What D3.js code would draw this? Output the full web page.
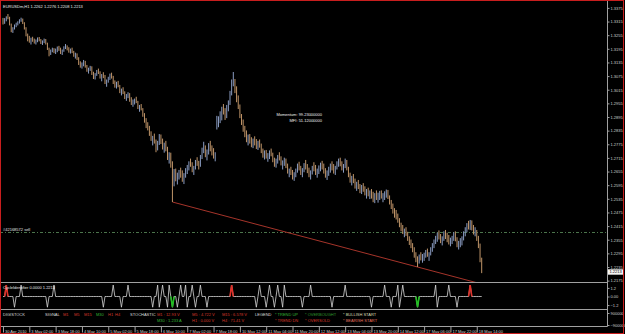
<!DOCTYPE html>
<html>
<head>
<meta charset="utf-8">
<script src="https://cdn.jsdelivr.net/npm/d3@7"></script>
<style>
  html, body { margin: 0; padding: 0; background: #000; }
  svg { display: block; }
  text { font-family: "Liberation Sans", Arial, sans-serif; }
</style>
</head>
<body>
<div id="chart"></div>
<script>
// EURUSDm H1 bars, 30 Apr 10:00 - 18 May 17:00 2010 (16 bars per row)
var highs = [
  1.3331,1.3330,1.3338,1.3348,1.3336,1.3306,1.3290,1.3302,1.3310,1.3316,1.3325,1.3332,1.3328,1.3312,1.3290,1.3262,
  1.3252,1.3244,1.3248,1.3240,1.3236,1.3245,1.3247,1.3238,1.3232,1.3240,1.3238,1.3222,1.3200,1.3192,1.3200,1.3198,
  1.3196,1.3205,1.3208,1.3200,1.3192,1.3206,1.3216,1.3210,1.3202,1.3196,1.3200,1.3186,1.3178,1.3175,1.3158,1.3140,
  1.3135,1.3146,1.3142,1.3124,1.3112,1.3120,1.3118,1.3094,1.3088,1.3102,1.3108,1.3096,1.3084,1.3092,1.3080,1.3060,
  1.3072,1.3086,1.3090,1.3076,1.3056,1.3050,1.3054,1.3036,1.3020,1.3026,1.3008,1.2996,1.3004,1.3000,1.2982,1.2972,
  1.2976,1.2984,1.2966,1.2948,1.2952,1.2934,1.2912,1.2890,1.2872,1.2856,1.2832,1.2812,1.2822,1.2796,1.2790,1.2820,
  1.2818,1.2800,1.2782,1.2790,1.2764,1.2740,1.2738,1.2700,1.2666,1.2668,1.2650,1.2662,1.2672,1.2660,1.2648,1.2670,
  1.2684,1.2700,1.2712,1.2696,1.2680,1.2706,1.2718,1.2702,1.2728,1.2760,1.2786,1.2770,1.2752,1.2780,1.2790,1.2770,
  1.2758,1.2740,1.2900,1.2898,1.2920,1.2940,1.2952,1.2934,1.2948,1.2968,1.3010,1.3060,1.3093,1.3062,1.3030,1.2990,
  1.2950,1.2908,1.2884,1.2856,1.2836,1.2818,1.2820,1.2806,1.2800,1.2810,1.2798,1.2790,1.2796,1.2778,1.2756,1.2748,
  1.2750,1.2736,1.2748,1.2756,1.2738,1.2716,1.2712,1.2728,1.2740,1.2722,1.2704,1.2716,1.2712,1.2690,1.2668,1.2676,
  1.2662,1.2652,1.2668,1.2690,1.2698,1.2680,1.2670,1.2692,1.2706,1.2688,1.2672,1.2660,1.2680,1.2696,1.2684,1.2668,
  1.2682,1.2694,1.2702,1.2690,1.2670,1.2660,1.2676,1.2690,1.2700,1.2688,1.2680,1.2700,1.2712,1.2716,1.2700,1.2688,
  1.2712,1.2706,1.2676,1.2650,1.2636,1.2644,1.2624,1.2610,1.2618,1.2600,1.2596,1.2604,1.2590,1.2578,1.2584,1.2572,
  1.2578,1.2566,1.2560,1.2572,1.2562,1.2570,1.2572,1.2560,1.2568,1.2576,1.2574,1.2550,1.2530,1.2514,1.2494,1.2486,
  1.2470,1.2450,1.2430,1.2420,1.2404,1.2410,1.2390,1.2370,1.2356,1.2340,1.2322,1.2300,1.2282,1.2290,1.2300,1.2292,
  1.2298,1.2310,1.2316,1.2300,1.2322,1.2340,1.2356,1.2372,1.2386,1.2396,1.2380,1.2370,1.2392,1.2398,1.2386,1.2376,
  1.2364,1.2372,1.2388,1.2392,1.2366,1.2350,1.2362,1.2370,1.2392,1.2410,1.2428,1.2438,1.2442,1.2440,1.2420,1.2410,
  1.2398,1.2372,1.2338,1.2276
];
var lows = [
  1.3302,1.3305,1.3316,1.3325,1.3298,1.3268,1.3265,1.3280,1.3290,1.3298,1.3306,1.3314,1.3304,1.3280,1.3250,1.3228,
  1.3222,1.3214,1.3226,1.3218,1.3214,1.3224,1.3228,1.3216,1.3212,1.3220,1.3214,1.3190,1.3162,1.3168,1.3180,1.3176,
  1.3172,1.3180,1.3186,1.3172,1.3168,1.3182,1.3194,1.3188,1.3178,1.3174,1.3176,1.3160,1.3152,1.3146,1.3124,1.3112,
  1.3108,1.3118,1.3112,1.3094,1.3086,1.3098,1.3080,1.3062,1.3060,1.3076,1.3084,1.3064,1.3052,1.3066,1.3040,1.3028,
  1.3046,1.3058,1.3064,1.3040,1.3024,1.3020,1.3026,1.3000,1.2990,1.2996,1.2974,1.2966,1.2978,1.2962,1.2948,1.2940,
  1.2950,1.2956,1.2930,1.2918,1.2924,1.2896,1.2870,1.2846,1.2836,1.2812,1.2790,1.2770,1.2778,1.2740,1.2748,1.2772,
  1.2776,1.2752,1.2738,1.2744,1.2706,1.2690,1.2672,1.2521,1.2590,1.2612,1.2598,1.2620,1.2628,1.2610,1.2600,1.2628,
  1.2644,1.2660,1.2676,1.2652,1.2640,1.2664,1.2680,1.2664,1.2676,1.2710,1.2736,1.2718,1.2704,1.2730,1.2744,1.2726,
  1.2712,1.2700,1.2840,1.2850,1.2868,1.2880,1.2906,1.2882,1.2890,1.2920,1.2948,1.2990,1.3030,1.3000,1.2960,1.2930,
  1.2890,1.2860,1.2830,1.2806,1.2784,1.2770,1.2778,1.2762,1.2758,1.2770,1.2754,1.2750,1.2760,1.2736,1.2716,1.2708,
  1.2712,1.2698,1.2710,1.2722,1.2696,1.2676,1.2672,1.2690,1.2704,1.2682,1.2664,1.2680,1.2670,1.2646,1.2630,1.2640,
  1.2620,1.2614,1.2630,1.2650,1.2660,1.2640,1.2630,1.2652,1.2664,1.2648,1.2630,1.2620,1.2642,1.2656,1.2640,1.2628,
  1.2644,1.2656,1.2664,1.2646,1.2628,1.2618,1.2636,1.2650,1.2660,1.2646,1.2640,1.2664,1.2676,1.2678,1.2660,1.2650,
  1.2670,1.2660,1.2630,1.2606,1.2594,1.2604,1.2580,1.2570,1.2578,1.2560,1.2556,1.2566,1.2550,1.2536,1.2546,1.2534,
  1.2536,1.2520,1.2516,1.2530,1.2518,1.2530,1.2536,1.2520,1.2530,1.2540,1.2534,1.2510,1.2490,1.2470,1.2452,1.2444,
  1.2430,1.2410,1.2392,1.2380,1.2366,1.2372,1.2350,1.2332,1.2318,1.2300,1.2276,1.2256,1.2235,1.2250,1.2264,1.2254,
  1.2262,1.2276,1.2280,1.2262,1.2286,1.2302,1.2318,1.2336,1.2346,1.2356,1.2340,1.2330,1.2350,1.2358,1.2344,1.2334,
  1.2326,1.2336,1.2350,1.2348,1.2322,1.2312,1.2322,1.2330,1.2352,1.2370,1.2388,1.2400,1.2398,1.2396,1.2378,1.2370,
  1.2350,1.2318,1.2256,1.2208
];
var closes = [
  1.3310,1.3322,1.3333,1.3330,1.3302,1.3275,1.3285,1.3298,1.3305,1.3312,1.3320,1.3326,1.3308,1.3284,1.3258,1.3240,
  1.3230,1.3236,1.3232,1.3225,1.3230,1.3240,1.3234,1.3222,1.3228,1.3236,1.3218,1.3196,1.3172,1.3188,1.3194,1.3182,
  1.3190,1.3198,1.3192,1.3178,1.3186,1.3200,1.3204,1.3194,1.3185,1.3190,1.3180,1.3166,1.3170,1.3150,1.3130,1.3122,
  1.3128,1.3138,1.3116,1.3100,1.3106,1.3112,1.3086,1.3070,1.3082,1.3096,1.3090,1.3070,1.3078,1.3072,1.3048,1.3054,
  1.3066,1.3078,1.3070,1.3046,1.3034,1.3042,1.3030,1.3006,1.3012,1.3002,1.2980,1.2988,1.2996,1.2968,1.2958,1.2962,
  1.2970,1.2962,1.2938,1.2942,1.2930,1.2902,1.2878,1.2858,1.2846,1.2820,1.2798,1.2806,1.2786,1.2752,1.2782,1.2808,
  1.2790,1.2760,1.2772,1.2752,1.2716,1.2730,1.2684,1.2620,1.2640,1.2626,1.2634,1.2650,1.2640,1.2622,1.2636,1.2660,
  1.2672,1.2690,1.2684,1.2660,1.2672,1.2698,1.2690,1.2684,1.2720,1.2748,1.2760,1.2730,1.2744,1.2766,1.2754,1.2740,
  1.2724,1.2730,1.2872,1.2886,1.2904,1.2930,1.2918,1.2896,1.2938,1.2956,1.3000,1.3048,1.3052,1.3012,1.2970,1.2944,
  1.2900,1.2872,1.2842,1.2820,1.2800,1.2806,1.2790,1.2778,1.2792,1.2784,1.2764,1.2780,1.2770,1.2744,1.2730,1.2738,
  1.2720,1.2726,1.2740,1.2730,1.2704,1.2690,1.2702,1.2720,1.2712,1.2690,1.2698,1.2706,1.2678,1.2654,1.2660,1.2648,
  1.2636,1.2644,1.2660,1.2682,1.2668,1.2650,1.2662,1.2684,1.2674,1.2656,1.2640,1.2652,1.2672,1.2664,1.2648,1.2658,
  1.2670,1.2686,1.2676,1.2654,1.2640,1.2650,1.2668,1.2680,1.2672,1.2660,1.2674,1.2690,1.2700,1.2688,1.2668,1.2680,
  1.2694,1.2666,1.2638,1.2614,1.2626,1.2610,1.2590,1.2600,1.2584,1.2572,1.2588,1.2576,1.2560,1.2566,1.2554,1.2560,
  1.2546,1.2530,1.2548,1.2540,1.2552,1.2560,1.2544,1.2548,1.2562,1.2566,1.2540,1.2518,1.2500,1.2480,1.2470,1.2454,
  1.2440,1.2418,1.2404,1.2390,1.2396,1.2380,1.2358,1.2344,1.2330,1.2310,1.2290,1.2268,1.2262,1.2280,1.2272,1.2284,
  1.2290,1.2300,1.2288,1.2296,1.2314,1.2332,1.2348,1.2360,1.2378,1.2366,1.2352,1.2362,1.2384,1.2370,1.2356,1.2346,
  1.2350,1.2364,1.2380,1.2356,1.2330,1.2340,1.2352,1.2362,1.2384,1.2402,1.2416,1.2410,1.2428,1.2404,1.2392,1.2400,
  1.2360,1.2330,1.2262,1.2213
];
// opens follow the previous close, except the first bar and the Monday gap
var firstOpen = 1.3318;
var gapOpens = [{ bar: 130, open: 1.2850 }];

// time scale labels, one every 16 bars
var timeLabels = ["30 Apr 2010", "3 May 02:00", "3 May 18:00", "4 May 10:00", "5 May 02:00",
  "5 May 18:00", "6 May 10:00", "7 May 02:00", "7 May 18:00", "10 May 12:00", "11 May 04:00",
  "11 May 20:00", "12 May 12:00", "13 May 04:00", "13 May 20:00", "14 May 12:00",
  "17 May 06:00", "17 May 22:00", "18 May 14:00"];
var labelStep = 16;

var priceTicks = [1.2175, 1.2235, 1.2295, 1.2355, 1.2415, 1.2475, 1.2535, 1.2595, 1.2655, 1.2715,
  1.2775, 1.2835, 1.2895, 1.2955, 1.3015, 1.3075, 1.3135, 1.3195, 1.3255, 1.3315, 1.3375];
var cycleTicks = [1.2, 0, -1.2];
var digiTicks = [900000, -900000];

// CycleIdentifier turns (bar numbers)
var cycleUp = [2, 11, 31, 67, 76, 94, 97, 101, 108, 111, 115, 120, 139, 156, 162, 167, 171,
  187, 208, 232, 240, 243, 263, 271, 284];
var cycleDown = [7, 27, 61, 72, 91, 95, 100, 103, 106, 112, 117, 124, 154, 160, 165, 170, 182,
  200, 224, 236, 241, 252, 264, 276];
var cycleUpRed = [2, 139, 284];
var cycleDownGreen = [103, 252];
var spikeHigh = 1.6, spikeLow = -1.5;

var sellLevel = 1.2389;
var trendFrom = 103, trendTo = 252;   // the line runs through the lows of these bars

// ---- layout ----
var svgWidth = 625, svgHeight = 334;
var plotLeft = 3, barStep = 1.645;
var axisX = 607.5;
var mainTop = 2, mainBottom = 282;
var cycTop = 284, cycBottom = 309;
var digiTop = 313, digiBottom = 325;
var timeY = 326.5;
var fontSize = 4;

var svg = d3.select("#chart")
  .append("svg")
  .attr("width", svgWidth)
  .attr("height", svgHeight);

svg.append("rect")
  .attr("width", svgWidth)
  .attr("height", svgHeight)
  .attr("fill", "#000");

// build the bar objects
var bars = closes.map(function(c, i) {
  return { i: i, open: i === 0 ? firstOpen : closes[i - 1], high: highs[i], low: lows[i], close: c };
});
gapOpens.forEach(function(g) { bars[g.bar].open = g.open; });
var lastBar = bars.length - 1;

// scales
var x = d3.scaleLinear()
  .domain([0, lastBar])
  .range([plotLeft, plotLeft + barStep * lastBar]);

var y = d3.scaleLinear()
  .domain([1.2169, 1.3401])
  .range([mainBottom, mainTop]);

var yCyc = d3.scaleLinear()
  .domain([-1.75, 1.75])
  .range([cycBottom, cycTop]);

var yDigi = d3.scaleLinear()
  .domain([-900000, 900000])
  .range([digiBottom, digiTop]);

svg.append("clipPath")
  .attr("id", "mainClip")
  .append("rect")
  .attr("x", 0).attr("y", mainTop)
  .attr("width", axisX).attr("height", mainBottom - mainTop);

var main = svg.append("g").attr("clip-path", "url(#mainClip)");

// sell order level
main.append("line")
  .attr("x1", 0).attr("x2", axisX)
  .attr("y1", Math.round(y(sellLevel)) + 0.5).attr("y2", Math.round(y(sellLevel)) + 0.5)
  .attr("stroke", "#4b744b")
  .attr("stroke-dasharray", "3,2,1,2");

svg.append("text")
  .attr("x", 3).attr("y", y(sellLevel) - 1.5)
  .attr("fill", "#e0e0e0").attr("font-size", fontSize)
  .text("#42168572 sell");

// trend line through the two lows, extended to the right
var slope = (lows[trendTo] - lows[trendFrom]) / (trendTo - trendFrom);
main.append("line")
  .attr("x1", x(trendFrom)).attr("y1", y(lows[trendFrom]))
  .attr("x2", x(lastBar)).attr("y2", y(lows[trendFrom] + slope * (lastBar - trendFrom)))
  .attr("stroke", "#a5342a")
  .attr("stroke-width", 1);

// OHLC bars
main.selectAll(".bar")
  .data(bars)
  .enter()
  .append("line")
  .attr("class", "bar")
  .attr("x1", d => x(d.i)).attr("x2", d => x(d.i))
  .attr("y1", d => y(d.high)).attr("y2", d => y(d.low))
  .attr("stroke", d => d.close >= d.open ? "#8a9cc2" : "#bf9468")
  .attr("stroke-width", 1);

// indicator values printed on the chart
svg.append("text")
  .attr("x", 322).attr("y", 115.5)
  .attr("text-anchor", "end")
  .attr("fill", "#f0f0f0").attr("font-size", fontSize)
  .text("Momentum: 99.23000000");
svg.append("text")
  .attr("x", 322).attr("y", 121.5)
  .attr("text-anchor", "end")
  .attr("fill", "#f0f0f0").attr("font-size", fontSize)
  .text("MFI: 51.12000000");

// header
svg.append("text")
  .attr("x", 3).attr("y", 7.5)
  .attr("fill", "#e8e8e8").attr("font-size", fontSize)
  .text("EURUSDm,H1  1.2262 1.2276 1.2208 1.2213");

// ---- CycleIdentifier window ----
var cycValues = bars.map(function(d) {
  if (cycleUp.indexOf(d.i) >= 0) return spikeHigh;
  if (cycleDown.indexOf(d.i) >= 0) return spikeLow;
  return 0;
});

var cycLine = d3.line()
  .x((d, i) => x(i))
  .y(d => yCyc(d));

svg.append("path")
  .datum(cycValues)
  .attr("d", cycLine)
  .attr("fill", "none")
  .attr("stroke", "#d8d8d8")
  .attr("stroke-width", 0.8);

function spike(bar, value, color) {
  svg.append("path")
    .datum([[bar - 1, 0], [bar, value], [bar + 1, 0]])
    .attr("d", d3.line().x(d => x(d[0])).y(d => yCyc(d[1])))
    .attr("fill", "none")
    .attr("stroke", color)
    .attr("stroke-width", 1.6);
}
cycleUpRed.forEach(b => spike(b, spikeHigh, "#e03028"));
cycleDownGreen.forEach(b => spike(b, spikeLow, "#22c022"));

svg.append("text")
  .attr("x", 3).attr("y", 288.5)
  .attr("fill", "#e8e8e8").attr("font-size", fontSize)
  .text("CycleIdentifier 0.0000 1.2213");

// ---- DIGISTOCK window ----
var row1 = 315.5, row2 = 321.5;
function label(xPos, yPos, txt, color) {
  svg.append("text")
    .attr("x", xPos).attr("y", yPos)
    .attr("fill", color).attr("font-size", fontSize)
    .text(txt);
}
var white = "#dcdcdc", red = "#d8392b", green = "#35b535";
label(3, row1, "DIGISTOCK", white);
label(45, row1, "SIGNAL", white);
label(63, row1, "M1", red);
label(74, row1, "M5", red);
label(84, row1, "M15", red);
label(96, row1, "M30", green);
label(108, row1, "H1", red);
label(115, row1, "H4", red);
label(130, row1, "STOCHASTIC", white);
label(157, row1, "M1 : 12.93 V", red);
label(157, row2, "M30 : 1.233 A", green);
label(192, row1, "M5 : 4.722 V", red);
label(192, row2, "H1 : 0.000 V", red);
label(222, row1, "M15 : 6.578 V", red);
label(222, row2, "H4 : 71.41 V", red);
label(255, row1, "LEGEND", white);
label(275, row1, "* TREND UP", green);
label(275, row2, "* TREND DN", red);
label(305, row1, "* OVERBOUGHT", "#2f9a2f");
label(305, row2, "* OVERSOLD", red);
label(343, row1, "* BULLISH START", "#dcdcb4");
label(343, row2, "* BEARISH START", "#e2705e");

// ---- frames between windows ----
[mainBottom + 0.5, cycBottom + 0.5, timeY].forEach(function(yy) {
  svg.append("line")
    .attr("x1", 0).attr("x2", axisX)
    .attr("y1", yy).attr("y2", yy)
    .attr("stroke", "#a0a0a0");
});
svg.append("line")
  .attr("x1", axisX).attr("x2", axisX)
  .attr("y1", 1).attr("y2", timeY)
  .attr("stroke", "#a0a0a0");

// ---- price scales ----
function styleAxis(g) {
  g.select(".domain").remove();
  g.selectAll(".tick line").attr("stroke", "#a0a0a0");
  g.selectAll(".tick text")
    .attr("fill", "#d0d0d0")
    .attr("font-size", fontSize)
    .attr("font-family", "Liberation Sans, Arial, sans-serif")
    .attr("x", 3);
}

svg.append("g")
  .attr("transform", `translate(${axisX}, 0)`)
  .call(d3.axisRight(y).tickValues(priceTicks).tickSize(2).tickFormat(d3.format(".4f")))
  .call(styleAxis);

svg.append("g")
  .attr("transform", `translate(${axisX}, 0)`)
  .call(d3.axisRight(yCyc).tickValues(cycleTicks).tickSize(2)
    .tickFormat(d => d === 0 ? "0.00" : d3.format(".1f")(d)))
  .call(styleAxis);

svg.append("g")
  .attr("transform", `translate(${axisX}, 0)`)
  .call(d3.axisRight(yDigi).tickValues(digiTicks).tickSize(2).tickFormat(d3.format("d")))
  .call(styleAxis);

// current price marker
var lastClose = closes[lastBar];
svg.append("rect")
  .attr("x", axisX + 0.5).attr("y", y(lastClose) - 2.7)
  .attr("width", 15).attr("height", 5.4)
  .attr("fill", "#f4f4f4");
svg.append("text")
  .attr("x", axisX + 2).attr("y", y(lastClose) + 1.4)
  .attr("fill", "#000").attr("font-size", fontSize)
  .text(d3.format(".4f")(lastClose));

// ---- time scale ----
var timeTicks = timeLabels.map((t, i) => i * labelStep);
var timeAxis = svg.append("g")
  .attr("transform", `translate(0, ${timeY})`)
  .call(d3.axisBottom(x).tickValues(timeTicks).tickSize(6)
    .tickFormat((d, i) => timeLabels[i]));
timeAxis.select(".domain").remove();
timeAxis.selectAll(".tick line").attr("stroke", "#a0a0a0");
timeAxis.selectAll(".tick text")
  .attr("fill", "#d0d0d0")
  .attr("font-size", fontSize)
  .attr("font-family", "Liberation Sans, Arial, sans-serif")
  .attr("text-anchor", "start")
  .attr("x", 1.5)
  .attr("y", 3.2);

// red window border
svg.append("rect")
  .attr("x", 0.5).attr("y", 0.5)
  .attr("width", svgWidth - 2).attr("height", svgHeight - 1)
  .attr("fill", "none")
  .attr("stroke", "#c81e1e");
</script>
</body>
</html>
